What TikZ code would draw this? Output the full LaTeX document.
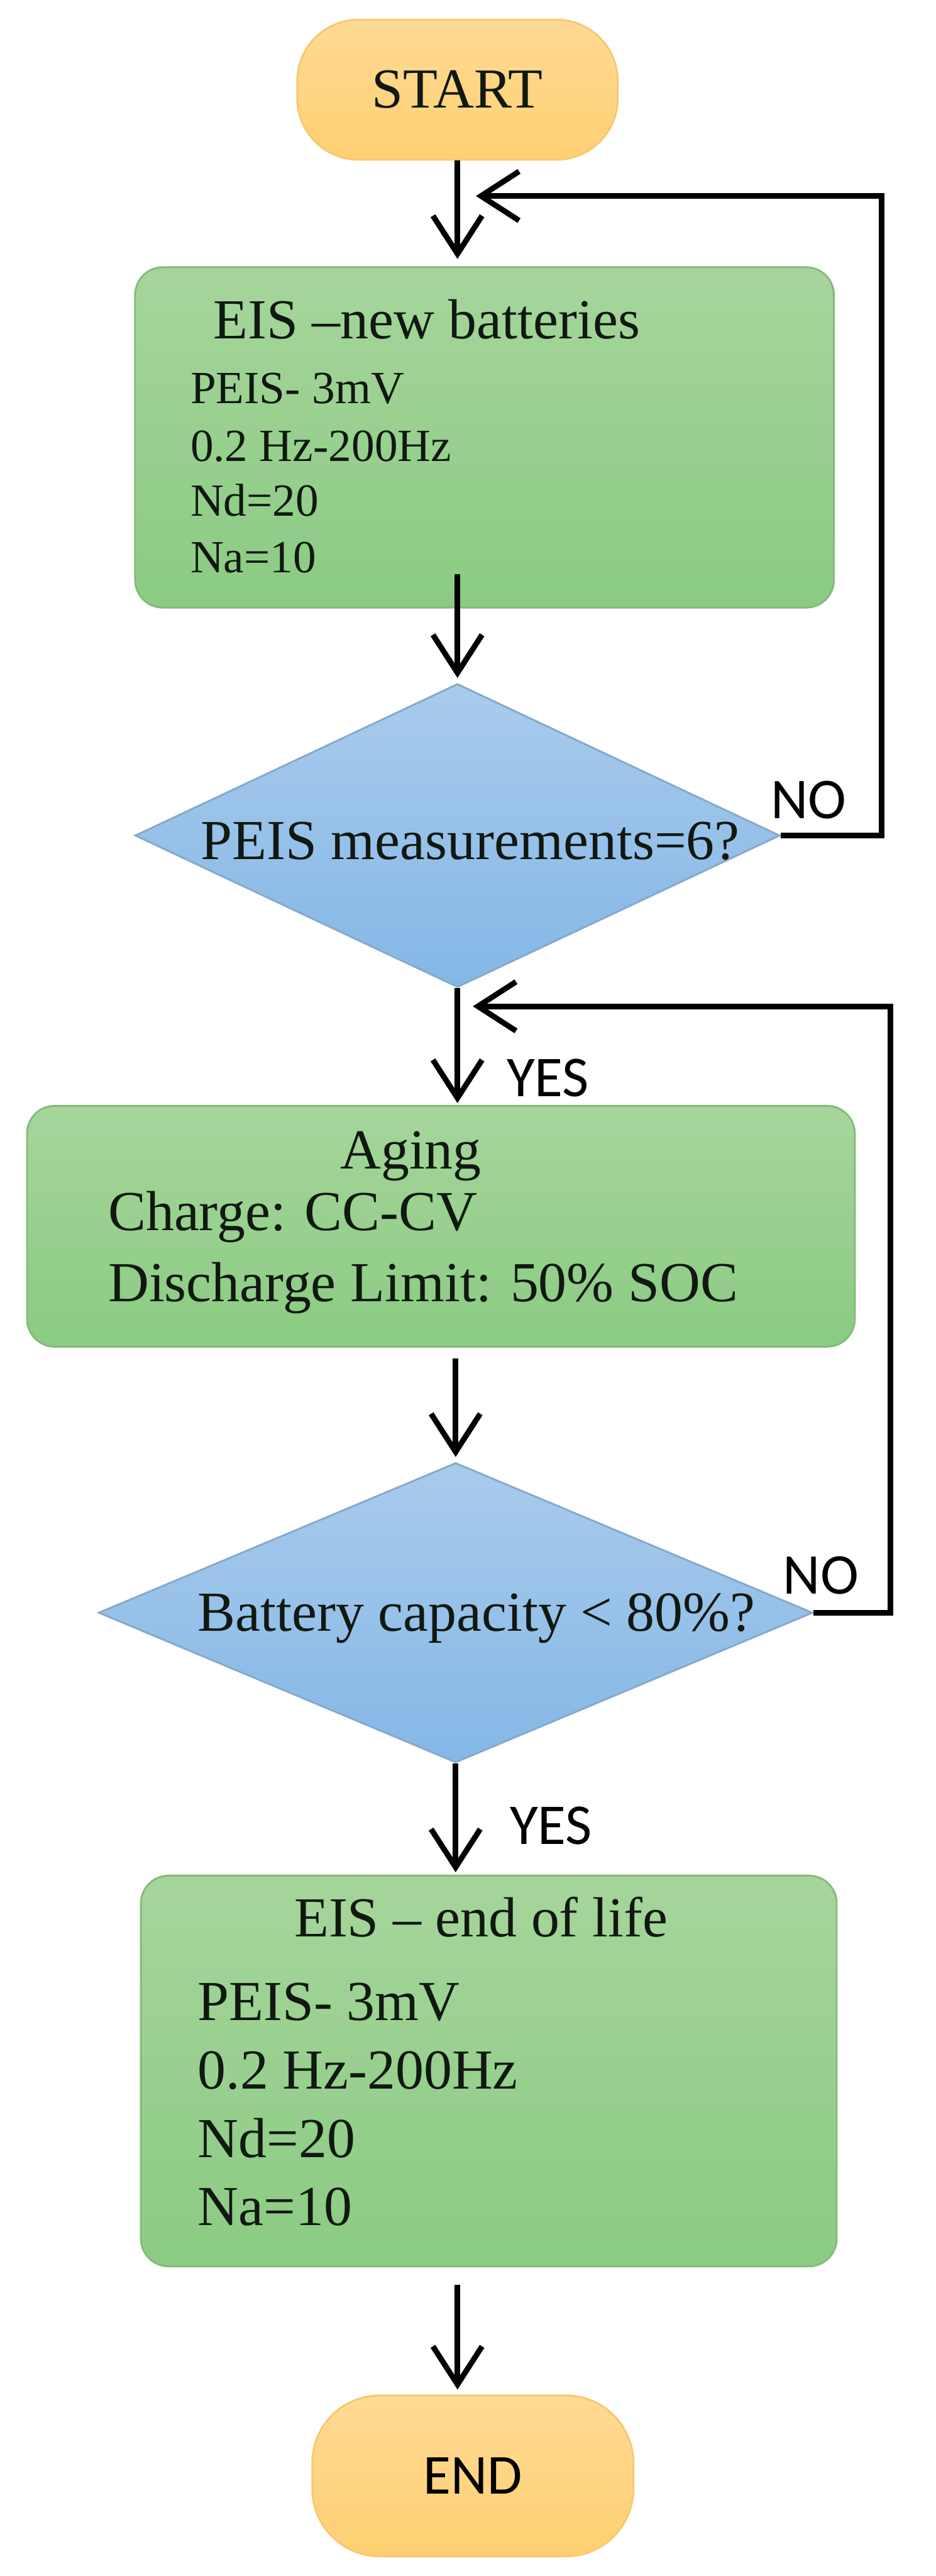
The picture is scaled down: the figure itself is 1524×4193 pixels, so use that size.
\documentclass[tikz,border=0pt]{standalone}
\usepackage{fontspec}
\setmainfont{Liberation Serif}
\newfontfamily\lblfont{Carlito}
\usetikzlibrary{arrows.meta,shapes.geometric}
\definecolor{ortop}{HTML}{FFDA95}
\definecolor{orbot}{HTML}{FFD072}
\definecolor{orbd}{HTML}{F8C870}
\definecolor{gtop}{HTML}{A6D59B}
\definecolor{gbot}{HTML}{8BCB83}
\definecolor{gbd}{HTML}{86B97D}
\definecolor{btop}{HTML}{A9CBEC}
\definecolor{bbot}{HTML}{84B7E6}
\definecolor{bbd}{HTML}{86A8CC}
\definecolor{txtc}{HTML}{101810}
\tikzset{
  pill/.style={draw=orbd, line width=3pt, top color=ortop, bottom color=orbot, rounded corners=100pt, inner sep=0pt, text=txtc},
  gbox/.style={draw=gbd, line width=3pt, top color=gtop, bottom color=gbot, rounded corners=45pt, inner sep=0pt},
  dia/.style={diamond, draw=bbd, line width=3pt, top color=btop, bottom color=bbot, inner sep=0pt},
  arr/.style={line width=9pt, line join=miter, -{Straight Barb[length=62pt,width=80pt,line width=9pt]}},
  big/.style={font=\fontsize{92}{110}\selectfont, inner sep=0pt, text=txtc},
  small/.style={font=\fontsize{75}{90}\selectfont, inner sep=0pt, text=txtc},
  lbl/.style={font=\lblfont\fontsize{94}{110}\selectfont, inner sep=0pt, text=black},
}
\begin{document}
\begin{tikzpicture}[x=1pt,y=-1pt]
\useasboundingbox[fill=white] (0,0) rectangle (1524,4193);

% shapes
\node[pill, minimum width=522pt, minimum height=228pt, big] (start) at (745,146) {START};
\node[gbox, minimum width=1138pt, minimum height=554pt] (b1) at (789,712) {};
\node[dia, minimum width=1050pt, minimum height=494pt] (d1) at (745,1360) {};
\node[gbox, minimum width=1348pt, minimum height=392pt] (ag) at (718,1996) {};
\node[dia, minimum width=1163pt, minimum height=488pt] (d2) at (742,2625) {};
\node[gbox, minimum width=1133pt, minimum height=636pt] (eol) at (796,3371) {};
\node[pill, rounded corners=110pt, minimum width=523pt, minimum height=262pt, lbl, font=\lblfont\fontsize{92}{110}\selectfont] (end) at (770,4030) {END};

% texts box 1
\node[big, anchor=base west] (b1t) at (347,551) {EIS \textendash new batteries};
\node[small, anchor=base west] (b1a) at (310,657) {PEIS- 3mV};
\node[small, anchor=base west] (b1b) at (310,751) {0.2 Hz-200Hz};
\node[small, anchor=base west] (b1c) at (310,840) {Nd=20};
\node[small, anchor=base west] (b1d) at (310,932) {Na=10};

% diamond 1
\node[big, anchor=base west] (d1t) at (327,1399) {PEIS measurements=6?};

% aging
\node[big, anchor=base] (agt) at (669,1902) {Aging};
\node[big, anchor=base west] (aga) at (176,2003) {Charge: CC-CV};
\node[big, anchor=base west] (agb) at (176,2118) {Discharge Limit: 50\% SOC};

% diamond 2
\node[big, anchor=base west] (d2t) at (322,2655) {Battery capacity {\char"003C} 80\%?};

% end of life
\node[big, anchor=base west] (eolt) at (479,3152) {EIS \textendash\ end of life};
\node[big, anchor=base west] (eola) at (322,3289) {PEIS- 3mV};
\node[big, anchor=base west] (eolb) at (322,3400) {0.2 Hz-200Hz};
\node[big, anchor=base west] (eolc) at (322,3512) {Nd=20};
\node[big, anchor=base west] (eold) at (322,3622) {Na=10};

% labels
\node[lbl, anchor=base west] (no1) at (1255,1332) {NO};
\node[lbl, anchor=base west] (yes1) at (825,1785) {YES};
\node[lbl, anchor=base west] (no2) at (1275,2595) {NO};
\node[lbl, anchor=base west] (yes2) at (830,3002) {YES};

% helper coordinates
\coordinate (j1) at (775,319);
\coordinate (c1) at (1436,319);
\coordinate (j2) at (770,1638);
\coordinate (c2) at (1450,1638);
\path (b1.south -| d1.north) ++(0,-56) coordinate (b1out);
\path (d2.north |- ag.south) ++(0,18) coordinate (agout);
\path (eol.south -| start.south) ++(0,28) coordinate (eolout);
\path (end.north -| start.south) coordinate (endin);

% connectors
\draw[arr, shorten >=12pt] (start.south) -- (start.south |- b1.north);
\draw[arr, shorten >=8pt] (b1out) -- (d1.north);
\draw[arr, shorten >=3pt] (d1.south) -- (d1.south |- ag.north);
\draw[arr, shorten >=8pt] (agout) -- (d2.north);
\draw[arr, shorten >=4pt] (d2.south) -- (d2.south |- eol.north);
\draw[arr, shorten >=8pt] (eolout) -- (endin);
\draw[arr] (d1.east) -| (c1) -- (j1);
\draw[arr] (d2.east) -| (c2) -- (j2);
\end{tikzpicture}
\end{document}
